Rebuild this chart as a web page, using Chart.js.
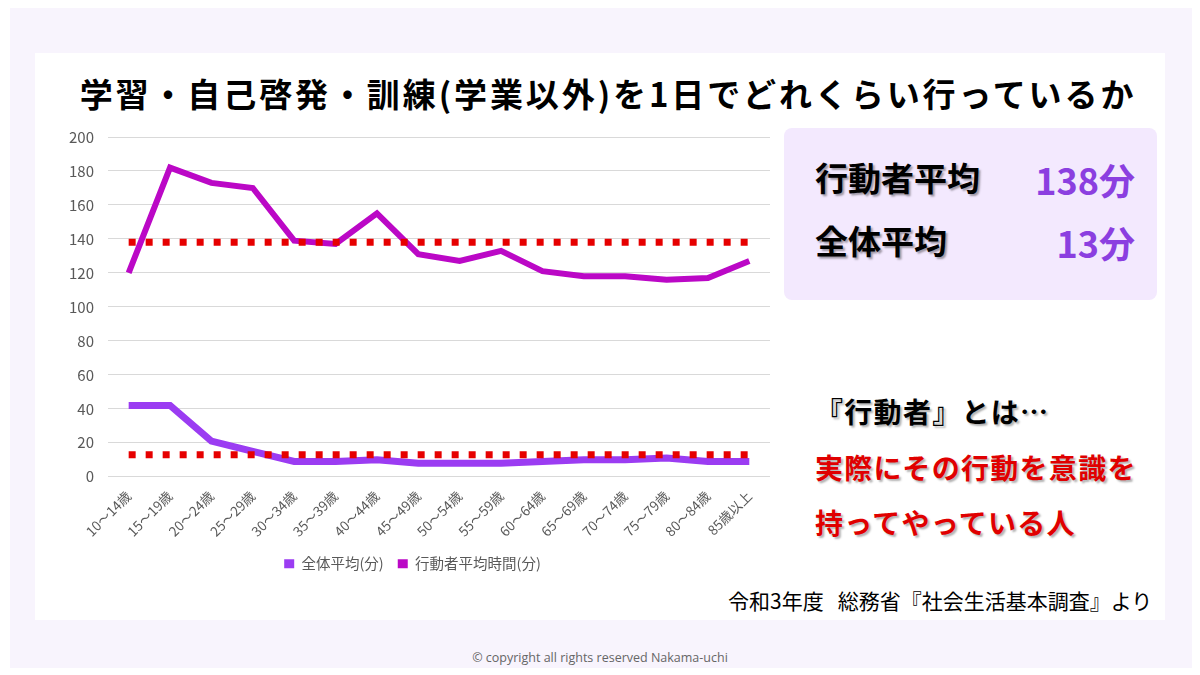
<!DOCTYPE html>
<html lang="ja">
<head>
<meta charset="UTF-8">
<title>学習・自己啓発・訓練</title>
<script src="https://cdn.jsdelivr.net/npm/chart.js@4.4.0/dist/chart.umd.min.js"></script>
<style>
    html, body { margin: 0; padding: 0; background: #fff; }
    body { width: 1200px; height: 675px; position: relative; overflow: hidden; font-family: "Noto Sans CJK JP", sans-serif; }
    #frame { position: absolute; left: 10px; top: 8px; width: 1182px; height: 660px; background: #f8f4fd; }
    #card { position: absolute; left: 35px; top: 53px; width: 1130px; height: 567px; background: #fff; }
    #title { position: absolute; left: 43px; top: 69px; width: 1130px; text-align: center; font-size: 33px; font-weight: bold; color: #000; letter-spacing: 2.9px; }
    #chartBox { position: absolute; left: 55px; top: 114px; width: 715px; height: 467px; }
    #summary { position: absolute; left: 784px; top: 128px; width: 373px; height: 172px; background: #f3e9fe; border-radius: 8px; }
    .row { position: absolute; left: 31px; right: 22px; font-weight: bold; }
    .row .lab { position: absolute; left: 0; font-size: 33px; color: #000; text-shadow: 2px 2px 2px rgba(0,0,0,0.35); }
    .row .val { position: absolute; right: 0; font-size: 36px; color: #8b3fe0; }
    .note { position: absolute; left: 815px; font-weight: bold; font-size: 28px; letter-spacing: 1.3px; text-shadow: 2px 2px 2px rgba(0,0,0,0.3); white-space: nowrap; }
    #source { position: absolute; left: 728px; top: 585px; font-size: 21px; color: #000; white-space: nowrap; }
    #copy { position: absolute; left: 0; width: 1200px; top: 649px; text-align: center; font-size: 12.5px; color: #666; font-family: "Open Sans", sans-serif; }
</style>
</head>
<body>
    <div id="frame"></div>
    <div id="card"></div>
    <div id="title">学習・自己啓発・訓練(学業以外)を1日でどれくらい行っているか</div>

    <div id="chartBox"><canvas id="lineChart"></canvas></div>

    <div id="summary">
        <div class="row" style="top:25px;"><span class="lab">行動者平均</span><span class="val">138分</span></div>
        <div class="row" style="top:88px;"><span class="lab">全体平均</span><span class="val">13分</span></div>
    </div>

    <div class="note" style="top:391px; color:#000;">『行動者』とは…</div>
    <div class="note" style="top:447px; color:#e00000;">実際にその行動を意識を</div>
    <div class="note" style="top:502px; color:#e00000;">持ってやっている人</div>

    <div id="source">令和3年度&nbsp;&nbsp;&nbsp;総務省『社会生活基本調査』より</div>
    <div id="copy">© copyright all rights reserved Nakama-uchi</div>

    <script>
        // age groups
        var ageGroups = ["10～14歳", "15～19歳", "20～24歳", "25～29歳", "30～34歳", "35～39歳", "40～44歳", "45～49歳",
                         "50～54歳", "55～59歳", "60～64歳", "65～69歳", "70～74歳", "75～79歳", "80～84歳", "85歳以上"];

        // minutes per day
        var allAverage = [42, 42, 21, 15, 9, 9, 10, 8, 8, 8, 9, 10, 10, 11, 9, 9];
        var actorAverage = [120, 182, 173, 170, 139, 137, 155, 131, 127, 133, 121, 118, 118, 116, 117, 127];

        // overall averages shown as dotted reference lines
        var actorAvgLine = [138, 138, 138, 138, 138, 138, 138, 138, 138, 138, 138, 138, 138, 138, 138, 138];
        var allAvgLine = [13, 13, 13, 13, 13, 13, 13, 13, 13, 13, 13, 13, 13, 13, 13, 13];

        var yTicks = [0, 20, 40, 60, 80, 100, 120, 140, 160, 180, 200];

        var seriesNames = ["全体平均(分)", "行動者平均時間(分)"];

        var ctx = document.getElementById('lineChart').getContext('2d');
        var fontFamily = '"Noto Sans CJK JP", sans-serif';

        var chart = new Chart(ctx, {
            type: 'line',
            data: {
                labels: ageGroups,
                datasets: [
                    {
                        label: seriesNames[0],
                        data: allAverage,
                        borderColor: '#9b3cf2',
                        backgroundColor: '#9b3cf2',
                        borderWidth: 7,
                        pointRadius: 0,
                        tension: 0,
                        order: 2
                    },
                    {
                        label: seriesNames[1],
                        data: actorAverage,
                        borderColor: '#bb08c6',
                        backgroundColor: '#bb08c6',
                        borderWidth: 6,
                        pointRadius: 0,
                        tension: 0,
                        order: 2
                    },
                    {
                        label: 'actorAvg',
                        data: actorAvgLine,
                        borderColor: '#e60000',
                        borderWidth: 7,
                        borderDash: [7, 10],
                        borderCapStyle: 'butt',
                        pointRadius: 0,
                        order: 1
                    },
                    {
                        label: 'allAvg',
                        data: allAvgLine,
                        borderColor: '#e60000',
                        borderWidth: 7,
                        borderDash: [7, 10],
                        borderCapStyle: 'butt',
                        pointRadius: 0,
                        order: 1
                    }
                ]
            },
            options: {
                responsive: true,
                maintainAspectRatio: false,
                animation: false,
                layout: { padding: { left: 0, right: 0, top: 14, bottom: 0 } },
                plugins: {
                    legend: {
                        position: 'bottom',
                        labels: {
                            boxWidth: 10,
                            boxHeight: 9,
                            color: '#595959',
                            font: { family: fontFamily, size: 14.5 },
                            padding: 14,
                            generateLabels: function(c) {
                                var items = Chart.defaults.plugins.legend.labels.generateLabels(c);
                                items.forEach(function(it) { it.lineWidth = 0; });
                                return items.filter(function(it) { return seriesNames.indexOf(it.text) >= 0; });
                            }
                        }
                    },
                    tooltip: { enabled: false }
                },
                scales: {
                    x: {
                        offset: true,
                        grid: { display: false },
                        border: { display: false },
                        ticks: {
                            color: '#595959',
                            font: { family: fontFamily, size: 13.5 },
                            maxRotation: 45,
                            minRotation: 45,
                            autoSkip: false
                        }
                    },
                    y: {
                        min: yTicks[0],
                        max: yTicks[yTicks.length - 1],
                        grid: { color: '#d9d9d9', drawTicks: false },
                        border: { display: false },
                        afterBuildTicks: function(axis) {
                            axis.ticks = yTicks.map(function(v) { return { value: v }; });
                        },
                        ticks: {
                            color: '#595959',
                            font: { family: fontFamily, size: 15 },
                            padding: 14
                        }
                    }
                }
            }
        });
    </script>
</body>
</html>
